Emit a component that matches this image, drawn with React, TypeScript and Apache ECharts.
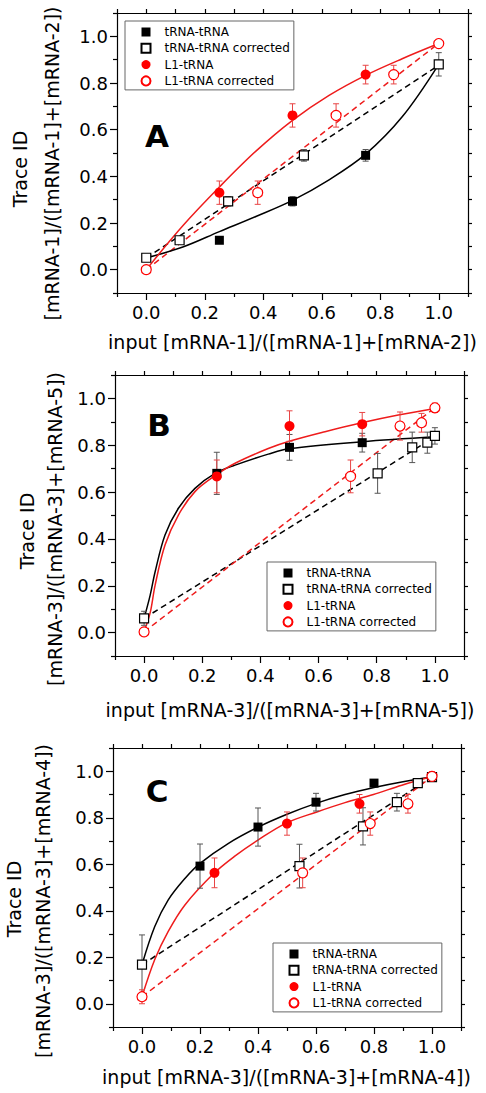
import React, { useEffect, useRef } from "react";
import * as echarts from "echarts";

const FONT = "DejaVu Sans";
const LEGEND_NAMES = ["tRNA-tRNA", "tRNA-tRNA corrected", "L1-tRNA", "L1-tRNA corrected"];
const MAJOR_TICKS = [0, 0.2, 0.4, 0.6, 0.8, 1.0];
const MINOR_TICKS = [-0.1, 0.1, 0.3, 0.5, 0.7, 0.9, 1.1];
const ALL_TICKS = [-0.1, 0, 0.1, 0.2, 0.3, 0.4, 0.5, 0.6, 0.7, 0.8, 0.9, 1.0, 1.1];

// ---------- Panel A ----------
const aTrnaX = [0.25, 0.5, 0.75];
const aTrnaY = [0.126, 0.293, 0.49];
const aTrnaErr = [0.01, 0.02, 0.025];
const aTrnaCorrX = [0, 0.114, 0.28, 0.539, 1.0];
const aTrnaCorrY = [0.051, 0.126, 0.293, 0.49, 0.88];
const aTrnaCorrErr = [0.01, 0.01, 0.02, 0.025, 0.05];
const aL1X = [0.25, 0.5, 0.75];
const aL1Y = [0.33, 0.661, 0.836];
const aL1Err = [0.05, 0.05, 0.04];
const aL1CorrX = [0, 0.381, 0.649, 0.846, 1.0];
const aL1CorrY = [0, 0.33, 0.661, 0.836, 0.969];
const aL1CorrErr = [0.01, 0.05, 0.05, 0.04, 0.01];
const aBlackFitX = [0, 0.125, 0.25, 0.375, 0.5, 0.625, 0.75, 0.875, 1.0];
const aBlackFitY = [0.05, 0.097, 0.163, 0.228, 0.297, 0.385, 0.495, 0.655, 0.88];
const aRedFitX = [0, 0.125, 0.25, 0.375, 0.5, 0.625, 0.75, 0.875, 1.0];
const aRedFitY = [0.0, 0.188, 0.354, 0.508, 0.64, 0.747, 0.833, 0.904, 0.969];
const aBlackDashX = [0, 1.0];
const aBlackDashY = [0.05, 0.876];
const aRedDashX = [0, 1.0];
const aRedDashY = [0.0, 0.97];

// ---------- Panel B ----------
const bTrnaX = [0.25, 0.5, 0.75];
const bTrnaY = [0.68, 0.791, 0.811];
const bTrnaErr = [0.09, 0.055, 0.04];
const bTrnaCorrX = [0, 0.803, 0.922, 0.974, 1.0];
const bTrnaCorrY = [0.061, 0.68, 0.791, 0.811, 0.84];
const bTrnaCorrErr = [0.03, 0.085, 0.065, 0.045, 0.035];
const bL1X = [0.25, 0.5, 0.75];
const bL1Y = [0.667, 0.882, 0.89];
const bL1Err = [0.07, 0.065, 0.05];
const bL1CorrX = [0, 0.71, 0.88, 0.954, 1.0];
const bL1CorrY = [0.003, 0.667, 0.882, 0.896, 0.96];
const bL1CorrErr = [0.01, 0.07, 0.06, 0.04, 0.02];
const bBlackFitX = [0, 0.021, 0.038, 0.072, 0.118, 0.175, 0.244, 0.313, 0.427, 0.502, 0.748, 1.0];
const bBlackFitY = [0.061, 0.16, 0.26, 0.417, 0.531, 0.616, 0.68, 0.715, 0.762, 0.786, 0.815, 0.836];
const bRedFitX = [0, 0.021, 0.038, 0.072, 0.118, 0.175, 0.244, 0.313, 0.427, 0.502, 0.622, 0.748, 0.874, 1.0];
const bRedFitY = [0.004, 0.085, 0.203, 0.374, 0.502, 0.602, 0.67, 0.723, 0.786, 0.818, 0.858, 0.896, 0.929, 0.957];
const bBlackDashX = [0, 1.0];
const bBlackDashY = [0.061, 0.836];
const bRedDashX = [0, 1.0];
const bRedDashY = [0.003, 0.96];

// ---------- Panel C ----------
const cTrnaX = [0.2, 0.4, 0.6, 0.8];
const cTrnaY = [0.592, 0.76, 0.867, 0.949];
const cTrnaErr = [0.095, 0.082, 0.038, 0.015];
const cTrnaCorrX = [0, 0.543, 0.762, 0.879, 0.951, 1.0];
const cTrnaCorrY = [0.168, 0.592, 0.763, 0.867, 0.949, 0.975];
const cTrnaCorrErr = [0.128, 0.094, 0.08, 0.038, 0.01, 0.01];
const cL1X = [0.25, 0.5, 0.75];
const cL1Y = [0.563, 0.775, 0.86];
const cL1Err = [0.064, 0.05, 0.04];
const cL1CorrX = [0, 0.554, 0.787, 0.917, 1.0];
const cL1CorrY = [0.03, 0.563, 0.775, 0.86, 0.978];
const cL1CorrErr = [0.03, 0.064, 0.05, 0.04, 0.02];
const cBlackFitX = [0, 0.044, 0.09, 0.148, 0.199, 0.297, 0.401, 0.5, 0.6, 0.7, 0.8, 0.9, 1.0];
const cBlackFitY = [0.168, 0.332, 0.446, 0.539, 0.603, 0.689, 0.76, 0.815, 0.862, 0.9, 0.93, 0.955, 0.975];
const cRedFitX = [0, 0.044, 0.09, 0.148, 0.248, 0.32, 0.401, 0.499, 0.603, 0.7, 0.798, 0.896, 1.0];
const cRedFitY = [0.03, 0.19, 0.31, 0.425, 0.561, 0.635, 0.705, 0.778, 0.825, 0.865, 0.9, 0.94, 0.977];
const cBlackDashX = [0, 1.0];
const cBlackDashY = [0.168, 0.975];
const cRedDashX = [0, 1.0];
const cRedDashY = [0.03, 0.977];

const zip2 = (xs: number[], ys: number[]) => xs.map((x, i) => [x, ys[i]]);
const zip3 = (xs: number[], ys: number[], es: number[]) => xs.map((x, i) => [x, ys[i], es[i]]);

const panels = [
  {
    letter: "A",
    xTitle: "input [mRNA-1]/([mRNA-1]+[mRNA-2])",
    yTitle: "[mRNA-1]/([mRNA-1]+[mRNA-2])",
    grid: { left: 117, top: 13, width: 351, height: 280 },
    legendPos: { left: 125, top: 21 },
    letterPos: [157, 136], xTitlePos: [292.5, 341.7], yTitle1Pos: [20, 169], yTitle2Pos: [51.5, 163.5],
    trna: zip2(aTrnaX, aTrnaY), trnaErr: zip3(aTrnaX, aTrnaY, aTrnaErr),
    trnaCorr: zip2(aTrnaCorrX, aTrnaCorrY), trnaCorrErr: zip3(aTrnaCorrX, aTrnaCorrY, aTrnaCorrErr),
    l1: zip2(aL1X, aL1Y), l1Err: zip3(aL1X, aL1Y, aL1Err),
    l1Corr: zip2(aL1CorrX, aL1CorrY), l1CorrErr: zip3(aL1CorrX, aL1CorrY, aL1CorrErr),
    blackFit: zip2(aBlackFitX, aBlackFitY), redFit: zip2(aRedFitX, aRedFitY),
    blackDash: zip2(aBlackDashX, aBlackDashY), redDash: zip2(aRedDashX, aRedDashY),
  },
  {
    letter: "B",
    xTitle: "input [mRNA-3]/([mRNA-3]+[mRNA-5])",
    yTitle: "[mRNA-3]/([mRNA-3]+[mRNA-5])",
    grid: { left: 115, top: 375, width: 349, height: 281 },
    legendPos: { left: 267, top: 562 },
    letterPos: [159, 425], xTitlePos: [290, 710], yTitle1Pos: [26.7, 531], yTitle2Pos: [55, 529],
    trna: zip2(bTrnaX, bTrnaY), trnaErr: zip3(bTrnaX, bTrnaY, bTrnaErr),
    trnaCorr: zip2(bTrnaCorrX, bTrnaCorrY), trnaCorrErr: zip3(bTrnaCorrX, bTrnaCorrY, bTrnaCorrErr),
    l1: zip2(bL1X, bL1Y), l1Err: zip3(bL1X, bL1Y, bL1Err),
    l1Corr: zip2(bL1CorrX, bL1CorrY), l1CorrErr: zip3(bL1CorrX, bL1CorrY, bL1CorrErr),
    blackFit: zip2(bBlackFitX, bBlackFitY), redFit: zip2(bRedFitX, bRedFitY),
    blackDash: zip2(bBlackDashX, bBlackDashY), redDash: zip2(bRedDashX, bRedDashY),
  },
  {
    letter: "C",
    xTitle: "input [mRNA-3]/([mRNA-3]+[mRNA-4])",
    yTitle: "[mRNA-3]/([mRNA-3]+[mRNA-4])",
    grid: { left: 113, top: 748, width: 348, height: 279 },
    legendPos: { left: 273, top: 943 },
    letterPos: [157, 791], xTitlePos: [286.5, 1076.7], yTitle1Pos: [14, 899], yTitle2Pos: [43, 901],
    trna: zip2(cTrnaX, cTrnaY), trnaErr: zip3(cTrnaX, cTrnaY, cTrnaErr),
    trnaCorr: zip2(cTrnaCorrX, cTrnaCorrY), trnaCorrErr: zip3(cTrnaCorrX, cTrnaCorrY, cTrnaCorrErr),
    l1: zip2(cL1X, cL1Y), l1Err: zip3(cL1X, cL1Y, cL1Err),
    l1Corr: zip2(cL1CorrX, cL1CorrY), l1CorrErr: zip3(cL1CorrX, cL1CorrY, cL1CorrErr),
    blackFit: zip2(cBlackFitX, cBlackFitY), redFit: zip2(cRedFitX, cRedFitY),
    blackDash: zip2(cBlackDashX, cBlackDashY), redDash: zip2(cRedDashX, cRedDashY),
  },
];

const AXIS_COLOR = "#000";
const RED = "#ff0000";
const RED_LINE = "#ee1c1c";

function makeXAxes(g: number) {
  const base = { gridIndex: g, type: "value", min: -0.1, max: 1.1, splitLine: { show: false } };
  return [
    {
      ...base, position: "bottom",
      axisLine: { show: true, onZero: false, lineStyle: { color: AXIS_COLOR, width: 1.2 } },
      axisTick: { show: true, inside: false, length: 7, customValues: MAJOR_TICKS, lineStyle: { color: AXIS_COLOR, width: 1.2 } },
      axisLabel: { show: true, customValues: MAJOR_TICKS, margin: 10, color: "#000", fontFamily: FONT, fontSize: 18, formatter: (v: number) => v.toFixed(1) },
    },
    {
      ...base, position: "bottom",
      axisLine: { show: false, onZero: false },
      axisTick: { show: true, inside: false, length: 4, customValues: MINOR_TICKS, lineStyle: { color: AXIS_COLOR, width: 1.2 } },
      axisLabel: { show: false },
    },
    {
      ...base, position: "top",
      axisLine: { show: true, onZero: false, lineStyle: { color: AXIS_COLOR, width: 1.2 } },
      axisTick: { show: true, inside: false, length: 4, customValues: ALL_TICKS, lineStyle: { color: AXIS_COLOR, width: 1.2 } },
      axisLabel: { show: false },
    },
  ];
}

function makeYAxes(g: number) {
  const base = { gridIndex: g, type: "value", min: -0.1, max: 1.1, splitLine: { show: false } };
  return [
    {
      ...base, position: "left",
      axisLine: { show: true, onZero: false, lineStyle: { color: AXIS_COLOR, width: 1.2 } },
      axisTick: { show: true, inside: false, length: 7, customValues: MAJOR_TICKS, lineStyle: { color: AXIS_COLOR, width: 1.2 } },
      axisLabel: { show: true, customValues: MAJOR_TICKS, margin: 9, color: "#000", fontFamily: FONT, fontSize: 18, formatter: (v: number) => v.toFixed(1) },
    },
    {
      ...base, position: "left",
      axisLine: { show: false, onZero: false },
      axisTick: { show: true, inside: false, length: 4, customValues: MINOR_TICKS, lineStyle: { color: AXIS_COLOR, width: 1.2 } },
      axisLabel: { show: false },
    },
    {
      ...base, position: "right",
      axisLine: { show: true, onZero: false, lineStyle: { color: AXIS_COLOR, width: 1.2 } },
      axisTick: { show: true, inside: false, length: 4, customValues: ALL_TICKS, lineStyle: { color: AXIS_COLOR, width: 1.2 } },
      axisLabel: { show: false },
    },
  ];
}

function errorSeries(g: number, data: number[][], color: string) {
  return {
    type: "custom",
    xAxisIndex: g * 3,
    yAxisIndex: g * 3,
    silent: true,
    z: 3,
    encode: { x: 0, y: 1 },
    data,
    renderItem: (params: any, api: any) => {
      const x = api.value(0);
      const y = api.value(1);
      const e = api.value(2);
      const top = api.coord([x, y + e]);
      const bot = api.coord([x, y - e]);
      const c = 3;
      const style = { stroke: color, lineWidth: 1 };
      return {
        type: "group",
        children: [
          { type: "line", shape: { x1: top[0], y1: top[1], x2: bot[0], y2: bot[1] }, style },
          { type: "line", shape: { x1: top[0] - c, y1: top[1], x2: top[0] + c, y2: top[1] }, style },
          { type: "line", shape: { x1: bot[0] - c, y1: bot[1], x2: bot[0] + c, y2: bot[1] }, style },
        ],
      };
    },
  };
}

function lineSeries(g: number, data: number[][], color: string, dashed: boolean, smooth: boolean) {
  return {
    type: "line",
    xAxisIndex: g * 3,
    yAxisIndex: g * 3,
    data,
    silent: true,
    z: 2,
    smooth: smooth ? 0.35 : false,
    showSymbol: false,
    symbol: "none",
    lineStyle: { color, width: 1.5, type: dashed ? [6, 4] : "solid" },
  };
}

function scatterSeries(g: number, name: string, data: number[][], symbol: string, size: number, fill: string, border: string) {
  return {
    type: "scatter",
    name,
    xAxisIndex: g * 3,
    yAxisIndex: g * 3,
    data,
    symbol,
    symbolSize: size,
    z: 5,
    itemStyle: { color: fill, borderColor: border, borderWidth: fill === "#fff" ? 1.2 : 0, opacity: 1 },
  };
}

function buildOption() {
  const grid: any[] = [];
  const xAxis: any[] = [];
  const yAxis: any[] = [];
  const series: any[] = [];
  const legend: any[] = [];
  const graphic: any[] = [];

  panels.forEach((p, g) => {
    grid.push({ ...p.grid, containLabel: false });
    xAxis.push(...makeXAxes(g));
    yAxis.push(...makeYAxes(g));

    series.push(lineSeries(g, p.blackDash, "#000", true, false));
    series.push(lineSeries(g, p.redDash, RED_LINE, true, false));
    series.push(lineSeries(g, p.blackFit, "#000", false, true));
    series.push(lineSeries(g, p.redFit, RED_LINE, false, true));
    series.push(errorSeries(g, p.trnaErr, "#555"));
    series.push(errorSeries(g, p.trnaCorrErr, "#555"));
    series.push(errorSeries(g, p.l1Err, "#e84545"));
    series.push(errorSeries(g, p.l1CorrErr, "#e84545"));
    series.push(scatterSeries(g, LEGEND_NAMES[0], p.trna, "rect", 9, "#000", "#000"));
    series.push(scatterSeries(g, LEGEND_NAMES[2], p.l1, "circle", 10, RED, RED));
    series.push(scatterSeries(g, LEGEND_NAMES[1], p.trnaCorr, "rect", 9, "#fff", "#000"));
    series.push(scatterSeries(g, LEGEND_NAMES[3], p.l1Corr, "circle", 10, "#fff", RED));

    legend.push({
      ...p.legendPos,
      orient: "vertical",
      data: LEGEND_NAMES,
      selectedMode: false,
      itemWidth: 9,
      itemHeight: 9,
      itemGap: 4.3,
      padding: [5, 4, 3, 15.5],
      borderColor: "#666",
      borderWidth: 1,
      borderRadius: 0,
      backgroundColor: "#fff",
      textStyle: { fontFamily: FONT, fontSize: 12, color: "#000", lineHeight: 12, padding: [0, 0, 0, 9] },
    });

    graphic.push({
      type: "text", x: p.letterPos[0], y: p.letterPos[1],
      style: { text: p.letter, fontFamily: FONT, fontWeight: "bold", fontSize: 31, fill: "#000", align: "center", verticalAlign: "middle" },
    });
    graphic.push({
      type: "text", x: p.xTitlePos[0], y: p.xTitlePos[1],
      style: { text: p.xTitle, fontFamily: FONT, fontSize: 19, fill: "#000", align: "center", verticalAlign: "middle" },
    });
    graphic.push({
      type: "text", x: p.yTitle1Pos[0], y: p.yTitle1Pos[1], rotation: Math.PI / 2,
      style: { text: "Trace ID", fontFamily: FONT, fontSize: 19, fill: "#000", align: "center", verticalAlign: "middle" },
    });
    graphic.push({
      type: "text", x: p.yTitle2Pos[0], y: p.yTitle2Pos[1], rotation: Math.PI / 2,
      style: { text: p.yTitle, fontFamily: FONT, fontSize: 19, fill: "#000", align: "center", verticalAlign: "middle" },
    });
  });

  return {
    animation: false,
    backgroundColor: "#fff",
    textStyle: { fontFamily: FONT },
    grid, xAxis, yAxis, series, legend, graphic,
  };
}

export default function App() {
  const ref = useRef<HTMLDivElement>(null);
  useEffect(() => {
    document.body.style.margin = "0";
    if (!ref.current) return;
    const chart = echarts.init(ref.current, undefined, { renderer: "svg" });
    chart.setOption(buildOption() as any);
    return () => chart.dispose();
  }, []);
  return <div ref={ref} style={{ width: 486, height: 1093 }} />;
}
